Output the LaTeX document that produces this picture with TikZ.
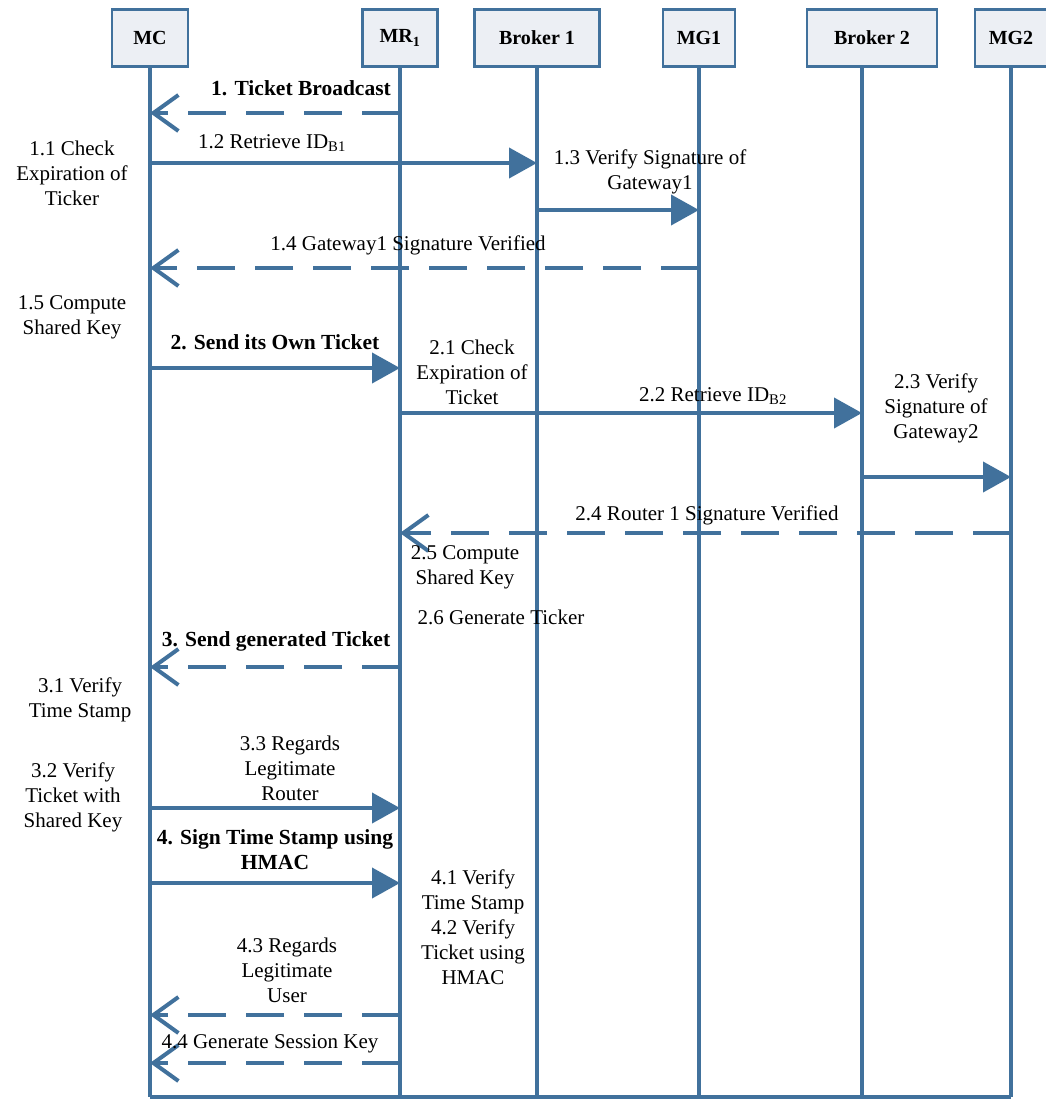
\documentclass[tikz,border=0pt]{standalone}
\usepackage{fontspec}
\setmainfont{Liberation Serif}
\usetikzlibrary{positioning,arrows.meta,calc}
\definecolor{lineblue}{RGB}{65,113,156}
\definecolor{boxfill}{RGB}{236,239,244}

\begin{document}
\begin{tikzpicture}[x=1pt, y=-1pt,
    actor/.style={draw=lineblue, fill=boxfill, line width=2.5pt, minimum height=57pt,
                  font=\fontsize{20}{23}\selectfont\bfseries},
    life/.style={draw=lineblue, line width=4pt},
    call/.style={draw=lineblue, line width=4pt, -{Triangle[length=28pt,width=30pt]}},
    back/.style={draw=lineblue, line width=4pt, dash pattern=on 38pt off 20pt,
                 -{Straight Barb[length=25pt,width=36pt]}},
    lbl/.style={font=\fontsize{21}{25}\selectfont, align=center, inner sep=0pt},
    blbl/.style={lbl, font=\fontsize{21.5}{25}\selectfont\bfseries}]
  \useasboundingbox (0,0) rectangle (1045,1100);
  % participants
  \node[actor, minimum width=76pt] (mc) at (150,38) {MC};
  \node[actor, minimum width=75pt] (mr) at (400,38) {MR\textsubscript{1}};
  \node[actor, minimum width=125pt] (bk1) at (537,38) {Broker 1};
  \node[actor, minimum width=72pt] (mg1) at (699,38) {MG1};
  \node[actor, minimum width=130pt] (bk2) at (872,38) {Broker 2};
  \node[actor, minimum width=72pt] (mg2) at (1011,38) {MG2};
  \coordinate (bk2l) at ([xshift=-10pt]bk2.south);
  % lifelines
  \coordinate (base) at (0,1097);
  \foreach \a in {mc.south,mr.south,bk1.south,mg1.south,bk2l,mg2.south}
    \draw[life] (\a) -- (\a |- base);
  \draw[life] (mc.south |- base) -- (mg2.south |- base);
  % message rows
  \coordinate (r1) at (0,113);
  \coordinate (r2) at (0,163);
  \coordinate (r3) at (0,210);
  \coordinate (r4) at (0,268);
  \coordinate (r5) at (0,368);
  \coordinate (r6) at (0,413);
  \coordinate (r7) at (0,477);
  \coordinate (r8) at (0,533);
  \coordinate (r9) at (0,667);
  \coordinate (r10) at (0,808);
  \coordinate (r11) at (0,883);
  \coordinate (r12) at (0,1015);
  \coordinate (r13) at (0,1063);
  % messages
  \draw[back] (mr |- r1) -- (mc |- r1);
  \draw[call] (mc |- r2) -- (bk1 |- r2);
  \draw[call] (bk1 |- r3) -- (mg1 |- r3);
  \draw[back] (mg1 |- r4) -- (mc |- r4);
  \draw[call] (mc |- r5) -- (mr |- r5);
  \draw[call] (mr |- r6) -- (bk2l |- r6);
  \draw[call] (bk2l |- r7) -- (mg2 |- r7);
  \draw[back] (mg2 |- r8) -- (mr |- r8);
  \draw[back] (mr |- r9) -- (mc |- r9);
  \draw[call] (mc |- r10) -- (mr |- r10);
  \draw[call] (mc |- r11) -- (mr |- r11);
  \draw[back] (mr |- r12) -- (mc |- r12);
  \draw[back] (mr |- r13) -- (mc |- r13);
  % message labels
  \node[blbl] (t1) at (301,88) {1. Ticket Broadcast};
  \node[lbl] (t12) at (272,143) {1.2 Retrieve ID\textsubscript{B1}};
  \node[lbl] (t13) at (650,172) {1.3 Verify Signature of\\Gateway1};
  \node[lbl] (t14) at (408,245) {1.4 Gateway1 Signature Verified};
  \node[blbl] (t2) at (275,342) {2. Send its Own Ticket};
  \node[lbl] (t22) at (713,396) {2.2 Retrieve ID\textsubscript{B2}};
  \node[lbl] (t23) at (936,408) {2.3 Verify\\Signature of\\Gateway2};
  \node[lbl] (t24) at (707,515) {2.4 Router 1 Signature Verified};
  \node[blbl] (t3) at (276,641) {3. Send generated Ticket};
  \node[lbl] (t33) at (290,768) {3.3 Regards\\Legitimate\\Router};
  \node[blbl] (t4) at (275,850) {4. Sign Time Stamp using\\HMAC};
  \node[lbl] (t43) at (287,970) {4.3 Regards\\Legitimate\\User};
  \node[lbl] (t44) at (270,1044) {4.4 Generate Session Key};
  % local steps
  \node[lbl] (s11) at (72,173) {1.1 Check\\Expiration of\\Ticker};
  \node[lbl] (s15) at (72,317) {1.5 Compute\\Shared Key};
  \node[lbl] (s21) at (472,372) {2.1 Check\\Expiration of\\Ticket};
  \node[lbl] (s25) at (465,567) {2.5 Compute\\Shared Key};
  \node[lbl] (s26) at (501,617) {2.6 Generate Ticker};
  \node[lbl] (s31) at (80,700) {3.1 Verify\\Time Stamp};
  \node[lbl] (s32) at (73,797) {3.2 Verify\\Ticket with\\Shared Key};
  \node[lbl] (s41) at (473,927) {4.1 Verify\\Time Stamp\\4.2 Verify\\Ticket using\\HMAC};
\end{tikzpicture}
\end{document}
